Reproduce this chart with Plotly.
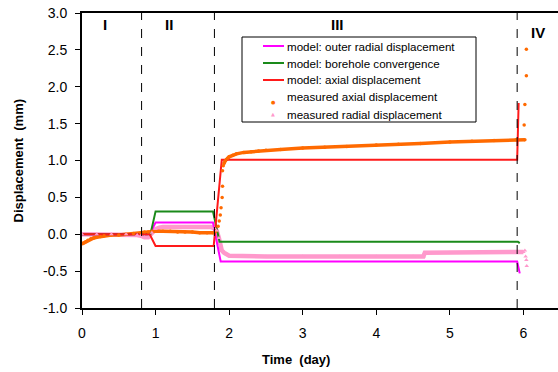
import plotly.graph_objects as go

# ---- data ----
# model curves
outer_t = [0, 0.92, 1.0, 1.78, 1.885, 5.915, 5.95]
outer_v = [0, 0, 0.16, 0.16, -0.37, -0.37, -0.53]
bore_t = [0, 0.93, 1.0, 1.78, 1.87, 5.925, 5.95]
bore_v = [0, 0, 0.31, 0.31, -0.10, -0.10, -0.12]
axial_t = [0, 0.92, 1.0, 1.79, 1.9, 5.915, 5.935]
axial_v = [0, 0, -0.16, -0.16, 1.01, 1.01, 1.78]

# measured axial displacement (dense parts, separated by None)
max_dense_t = [0, 0.02, 0.05, 0.08, 0.12, 0.16, 0.2, 0.25, 0.3, 0.4, 0.5, 0.6, 0.7, 0.8, 0.85,
               0.9, 0.95, 1.0, 1.1, 1.2, 1.3, 1.4, 1.5, 1.6, 1.7, 1.78, 1.82, None,
               1.93, 1.95, 1.98, 2.0, 2.05, 2.1, 2.2, 2.3, 2.4, 2.5, 2.7, 3.0, 3.3, 3.6,
               4.0, 4.3, 4.6, 5.0, 5.3, 5.6, 5.9, 6.02]
max_dense_v = [-0.13, -0.12, -0.10, -0.08, -0.06, -0.05, -0.04, -0.03, -0.02, -0.01, -0.01, 0.0,
               0.01, 0.02, 0.03, 0.03, 0.04, 0.04, 0.04, 0.04, 0.03, 0.03, 0.03, 0.02, 0.02, 0.02,
               0.04, None,
               0.96, 1.0, 1.03, 1.05, 1.07, 1.09, 1.11, 1.12, 1.13, 1.14, 1.15, 1.17, 1.18, 1.19,
               1.21, 1.22, 1.23, 1.25, 1.26, 1.27, 1.28, 1.28]
max_sparse_t = [1.85, 1.865, 1.88, 1.89, 1.905, 1.91, 1.91, 1.92, 6.01, 6.02, 6.04, 6.04]
max_sparse_v = [0.11, 0.18, 0.26, 0.36, 0.50, 0.65, 0.86, 0.93, 1.48, 1.76, 2.15, 2.51]

# measured radial displacement
mrad_dense_t = [0, 0.2, 0.4, 0.6, 0.75, 0.8, 0.85, 0.9, 0.95, 1.0, 1.05, 1.1, 1.2, 1.4, 1.6,
                1.75, 1.8, 1.83, 1.86, 1.88, 1.9, 1.93, 1.97, 2.0, 2.5, 3.0, 3.5, 4.0, 4.5,
                4.64, 4.66, 5.0, 5.5, 5.9, 6.0]
mrad_dense_v = [0.0, 0.0, 0.0, 0.0, -0.01, -0.02, -0.04, -0.04, 0.02, 0.07, 0.09, 0.10, 0.10,
                0.10, 0.10, 0.10, 0.08, 0.05, -0.05, -0.15, -0.22, -0.25, -0.27, -0.29, -0.30,
                -0.30, -0.30, -0.30, -0.30, -0.30, -0.25, -0.25, -0.25, -0.25, -0.24]
mrad_sparse_t = [6.02, 6.03, 6.04, 6.045]
mrad_sparse_v = [-0.22, -0.30, -0.35, -0.43]

phase_bounds = [0.81, 1.80, 5.915]
phase_labels = ["I", "II", "III", "IV"]
phase_label_x = [0.31, 1.18, 3.47, 6.2]
phase_label_y = [2.84, 2.84, 2.84, 2.74]

x_ticks = [0, 1, 2, 3, 4, 5, 6]
y_ticks = [-1, -0.5, 0, 0.5, 1, 1.5, 2, 2.5, 3]
y_tick_text = ["-1.0", "-0.5", "0.0", "0.5", "1.0", "1.5", "2.0", "2.5", "3.0"]

legend_names = ["model: outer radial displacement", "model: borehole convergence",
                "model: axial displacement", "measured axial displacement",
                "measured radial displacement"]

C_MAG = "#FF00FF"
C_GRN = "#1A8A1A"
C_RED = "#FF1A1A"
C_ORG = "#FF6A00"
C_PNK = "#FF99CC"
FONT = "Arial, Liberation Sans, sans-serif"

# plot-area geometry (pixels) for layout-only elements
L, R, T, B = 82, 558, 13, 308
PW, PH = R - L, B - T


def px(X):
    return (X - L) / PW


def py(Y):
    return (B - Y) / PH


fig = go.Figure()

# dense measured bands
fig.add_trace(go.Scatter(x=mrad_dense_t, y=mrad_dense_v, mode="lines",
                         line=dict(color=C_PNK, width=4.5), showlegend=False, hoverinfo="skip"))
fig.add_trace(go.Scatter(x=max_dense_t, y=max_dense_v, mode="lines",
                         line=dict(color=C_ORG, width=3.5), showlegend=False, hoverinfo="skip",
                         connectgaps=False))

fig.add_trace(go.Scatter(x=outer_t, y=outer_v, mode="lines", name=legend_names[0],
                         line=dict(color=C_MAG, width=2), showlegend=False))
fig.add_trace(go.Scatter(x=bore_t, y=bore_v, mode="lines", name=legend_names[1],
                         line=dict(color=C_GRN, width=2), showlegend=False))
fig.add_trace(go.Scatter(x=axial_t, y=axial_v, mode="lines", name=legend_names[2],
                         line=dict(color=C_RED, width=2), showlegend=False))
fig.add_trace(go.Scatter(x=[t for t in max_dense_t if t is not None] + max_sparse_t,
                         y=[v for v in max_dense_v if v is not None] + max_sparse_v,
                         mode="markers", name=legend_names[3], showlegend=False,
                         marker=dict(color=C_ORG, size=3.5, symbol="circle")))
fig.add_trace(go.Scatter(x=mrad_dense_t + mrad_sparse_t, y=mrad_dense_v + mrad_sparse_v,
                         mode="markers", name=legend_names[4], showlegend=False,
                         marker=dict(color=C_PNK, size=4, symbol="triangle-up")))

shapes = []
for xb in phase_bounds:
    shapes.append(dict(type="line", xref="x", yref="paper", x0=xb, x1=xb, y0=0, y1=1,
                       line=dict(color="black", width=1, dash="dash")))

annotations = []
for lab, lx, ly in zip(phase_labels, phase_label_x, phase_label_y):
    annotations.append(dict(x=lx, y=ly, xref="x", yref="y", text="<b>%s</b>" % lab,
                            showarrow=False, font=dict(family=FONT, size=15, color="black")))
annotations.append(dict(x=px(18), y=0.5, xref="paper", yref="paper", xanchor="center",
                        yanchor="middle", text="<b>Displacement  (mm)</b>", textangle=-90,
                        showarrow=False, font=dict(family=FONT, size=13, color="black")))
annotations.append(dict(x=px(296), y=py(359), xref="paper", yref="paper",
                        xanchor="center", yanchor="middle",
                        text="<b>Time  (day)</b>", showarrow=False,
                        font=dict(family=FONT, size=13, color="black")))

# legend box (drawn manually to match entry spacing)
shapes.append(dict(type="rect", xref="paper", yref="paper", x0=px(242), x1=px(476),
                   y0=py(122), y1=py(37), fillcolor="white",
                   line=dict(color="black", width=1), layer="above"))
legend_y = [46, 63, 80, 97, 114]
line_cols = [C_MAG, C_GRN, C_RED]
for i, name in enumerate(legend_names):
    yy = legend_y[i]
    if i < 3:
        shapes.append(dict(type="line", xref="paper", yref="paper", x0=px(263), x1=px(284),
                           y0=py(yy), y1=py(yy), line=dict(color=line_cols[i], width=2),
                           layer="above"))
    elif i == 3:
        annotations.append(dict(x=px(273), y=py(yy), xref="paper", yref="paper",
                                text="\u25CF", showarrow=False,
                                font=dict(family="DejaVu Sans", size=5, color=C_ORG)))
    else:
        annotations.append(dict(x=px(273), y=py(yy), xref="paper", yref="paper",
                                text="\u25B2", showarrow=False,
                                font=dict(family="DejaVu Sans", size=5, color=C_PNK)))
    annotations.append(dict(x=px(285), y=py(yy), xref="paper", yref="paper", xanchor="left",
                            yanchor="middle", text=name, showarrow=False,
                            font=dict(family=FONT, size=11.6, color="black")))

fig.update_layout(
    width=558, height=372,
    margin=dict(l=L, r=558 - R, t=T, b=372 - B),
    paper_bgcolor="white", plot_bgcolor="white",
    font=dict(family=FONT, size=14, color="black"),
    shapes=shapes, annotations=annotations,
    showlegend=False,
)
fig.update_xaxes(range=[0, 6.47], tickvals=x_ticks, showgrid=False, zeroline=False,
                 showline=True, linecolor="black", linewidth=2, mirror=True,
                 ticks="outside", ticklen=5, tickwidth=1, tickcolor="black",
                 ticklabelstandoff=6, tickfont=dict(size=14))
fig.update_yaxes(range=[-1, 3], tickvals=y_ticks, ticktext=y_tick_text,
                 showgrid=False, zeroline=False,
                 showline=True, linecolor="black", linewidth=2,
                 ticks="outside", ticklen=5, tickwidth=1, tickcolor="black",
                 ticklabelstandoff=5, tickfont=dict(size=14))

fig.write_html("out.html")
